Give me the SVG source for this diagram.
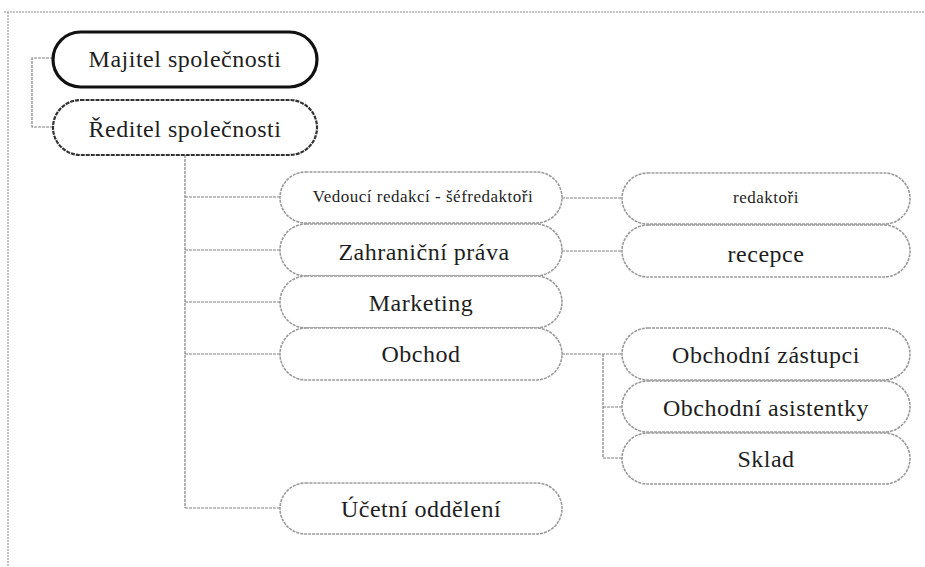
<svg xmlns="http://www.w3.org/2000/svg" width="925" height="567" viewBox="0 0 925 567">
<style>
  text { fill: #1e1e1e; text-anchor: middle; letter-spacing: 0.5px; }
  .big { font-size: 24px; }
  .small { font-size: 17px; }
  .node { fill: #ffffff; stroke: #9a9a9a; stroke-width: 1.6; stroke-dasharray: 3 1; }
  .top { fill: #ffffff; stroke: #111; stroke-width: 3.2; }
  .dir { fill: #ffffff; stroke: #333; stroke-width: 2.2; stroke-dasharray: 4 1; }
  .conn { fill: none; stroke: #808080; stroke-width: 1.2; stroke-dasharray: 3 1; }
  .frame { fill: none; stroke: #b0b0b0; stroke-width: 1.5; stroke-dasharray: 2 1; }
</style>
<rect width="925" height="567" fill="#ffffff"/>
<g id="frame">
  <path class="frame" d="M4 12 H925 M8 12 V567"/>
</g>
<g id="connectors">
  <path class="conn" d="M53 58 H32 V127 H53"/>
  <path class="conn" d="M185 155 V508"/>
  <path class="conn" d="M185 197 H280 M185 250 H280 M185 302 H280 M185 354 H280 M185 508 H280"/>
  <path class="conn" d="M562 198 H622 M562 251 H622"/>
  <path class="conn" d="M562 354 H622 M603 354 V458 H622 M603 407 H622"/>
</g>
<g font-family="'Liberation Serif', 'DejaVu Serif', serif">
<g id="majitel">
  <rect class="top" x="53" y="32" width="264" height="55" rx="27.5"/>
  <text class="big" x="185" y="67">Majitel společnosti</text>
</g>
<g id="reditel">
  <rect class="dir" x="53" y="100" width="264" height="55" rx="27.5"/>
  <text class="big" x="185" y="137">Ředitel společnosti</text>
</g>
<g id="vedouci">
  <rect class="node" x="280" y="172" width="282" height="51" rx="25.5"/>
  <text class="small" x="423" y="202">Vedoucí redakcí - šéfredaktoři</text>
</g>
<g id="zahranicni">
  <rect class="node" x="280" y="224" width="282" height="52" rx="26"/>
  <text class="big" x="424" y="260">Zahraniční práva</text>
</g>
<g id="marketing">
  <rect class="node" x="280" y="276" width="282" height="52" rx="26"/>
  <text class="big" x="421" y="311">Marketing</text>
</g>
<g id="obchod">
  <rect class="node" x="280" y="328" width="282" height="52" rx="26"/>
  <text class="big" x="421" y="362">Obchod</text>
</g>
<g id="ucetni">
  <rect class="node" x="280" y="483" width="282" height="51" rx="25.5"/>
  <text class="big" x="421" y="517">Účetní oddělení</text>
</g>
<g id="redaktori">
  <rect class="node" x="622" y="173" width="288" height="51" rx="25.5"/>
  <text class="small" x="766" y="203">redaktoři</text>
</g>
<g id="recepce">
  <rect class="node" x="622" y="225" width="288" height="52" rx="26"/>
  <text class="big" x="766" y="262">recepce</text>
</g>
<g id="zastupci">
  <rect class="node" x="622" y="328" width="288" height="52" rx="26"/>
  <text class="big" x="766" y="363">Obchodní zástupci</text>
</g>
<g id="asistentky">
  <rect class="node" x="622" y="381" width="288" height="51" rx="25.5"/>
  <text class="big" x="766" y="416">Obchodní asistentky</text>
</g>
<g id="sklad">
  <rect class="node" x="622" y="433" width="288" height="51" rx="25.5"/>
  <text class="big" x="766" y="467">Sklad</text>
</g>
</g>
</svg>
